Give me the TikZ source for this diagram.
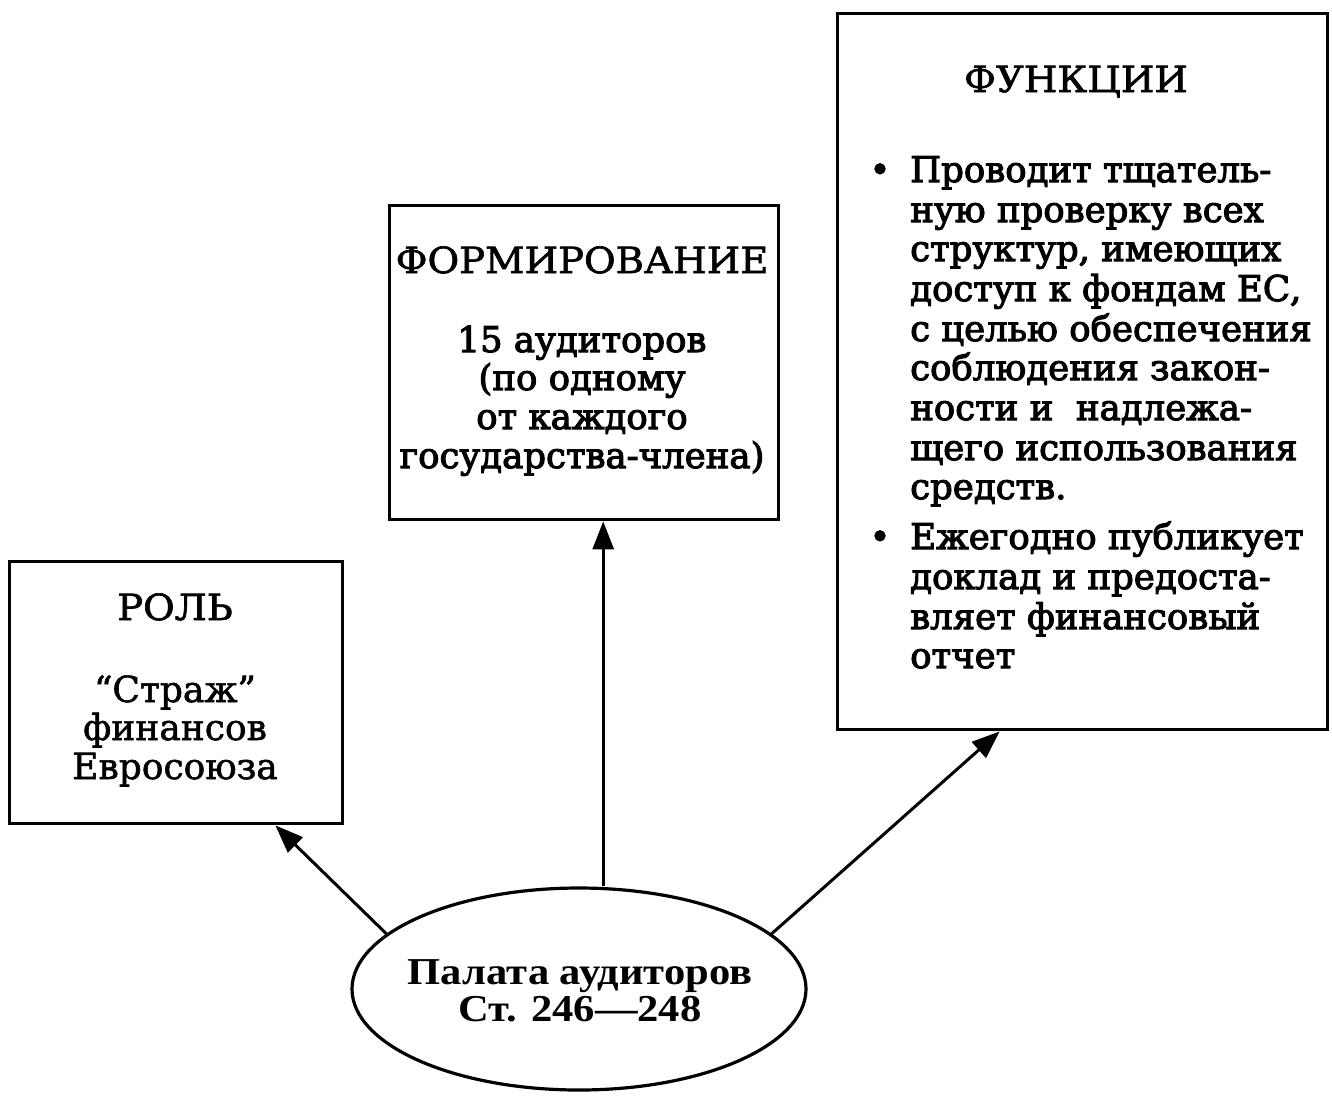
\documentclass[tikz,border=0pt]{standalone}
\usepackage{fontspec}
\setmainfont{DejaVu Serif}
\newfontfamily\bodyfont{DejaVu Serif}[FakeBold=3]
\newfontfamily\rolefont{DejaVu Serif}[FakeBold=1.5]
\newfontfamily\headfont{DejaVu Serif}[FakeStretch=1.07,FakeBold=1.8]
\newfontfamily\ellfont{Liberation Serif}[FakeStretch=1.12]
\usetikzlibrary{arrows.meta,shapes.geometric}
\tikzset{
  box/.style={draw, line width=3.4pt, rectangle, anchor=north west, inner sep=0pt},
  txt/.style={inner sep=0pt, font=\bodyfont\fontsize{35.5}{40}\selectfont},
  head/.style={inner sep=0pt, anchor=base, font=\headfont\fontsize{36}{40}\selectfont},
  ctr/.style={txt, anchor=base},
  rtxt/.style={inner sep=0pt, anchor=base, font=\rolefont\fontsize{36}{40}\selectfont},
  lft/.style={txt, anchor=base west},
  ell/.style={draw, ellipse, line width=3.2pt, inner sep=0pt},
  etxt/.style={inner sep=0pt, anchor=base, font=\ellfont\bfseries\fontsize{38}{42}\selectfont},
  arr/.style={line width=3pt, -{Triangle[length=28pt,width=21pt]}}
}
\begin{document}
\begin{tikzpicture}[x=1pt,y=-1pt]
\useasboundingbox (0,0) rectangle (1332,1096);
% boxes
\node[box, minimum width=333, minimum height=262] (role) at (8,560) {};
\node[box, minimum width=389, minimum height=314] (form) at (388,204) {};
\node[box, minimum width=490, minimum height=716] (func) at (836,12) {};
% ellipse
\node[ell, minimum width=454, minimum height=202] (pal) at (579,989) {};
\node[etxt] (p1) at (580,984) {Палата аудиторов};
\node[etxt] (p2) at (580,1021) {Ст. 246—248};
% role text
\node[head] (rh) at (175,620) {РОЛЬ};
\node[rtxt] (r1) at (175,702) {“Страж”};
\node[rtxt] (r2) at (175,740) {финансов};
\node[rtxt] (r3) at (175,779) {Евросоюза};
% formation text
\node[head] (fh) at (582,273) {ФОРМИРОВАНИЕ};
\node[ctr] (g1) at (582,352) {15 аудиторов};
\node[ctr] (g2) at (582,390) {(по одному};
\node[ctr] (g3) at (582,429) {от каждого};
\node[ctr] (g4) at (582,468) {государства-члена)};
% function text
\node[head] (uh) at (1076,92) {ФУНКЦИИ};
\node[ctr] (b1) at (880,182) {•};
\node[lft] (u1) at (910,182) {Проводит тщатель-};
\node[lft] (u2) at (910,222) {ную проверку всех};
\node[lft] (u3) at (910,261) {структур, имеющих};
\node[lft] (u4) at (910,301) {доступ к фондам ЕС,};
\node[lft] (u5) at (910,341) {с целью обеспечения};
\node[lft] (u6) at (910,380) {соблюдения закон-};
\node[lft] (u7) at (910,420) {ности и\ \ надлежа-};
\node[lft] (u8) at (910,460) {щего использования};
\node[lft] (u9) at (910,499) {средств.};
\node[ctr] (b2) at (880,549) {•};
\node[lft] (v1) at (910,549) {Ежегодно публикует};
\node[lft] (v2) at (910,589) {доклад и предоста-};
\node[lft] (v3) at (910,629) {вляет финансовый};
\node[lft] (v4) at (910,668) {отчет};
% arrow end points on the box borders
\coordinate (roletip) at ([xshift=-69pt]role.south east);
\coordinate (formtip) at ([xshift=19pt]form.south);
\coordinate (functip) at ([xshift=-83pt]func.south);
\draw[arr] (pal.164) -- (roletip);
\draw[arr] (pal.north -| formtip) -- (formtip);
\draw[arr] (pal.16) -- (functip);
\end{tikzpicture}
\end{document}
